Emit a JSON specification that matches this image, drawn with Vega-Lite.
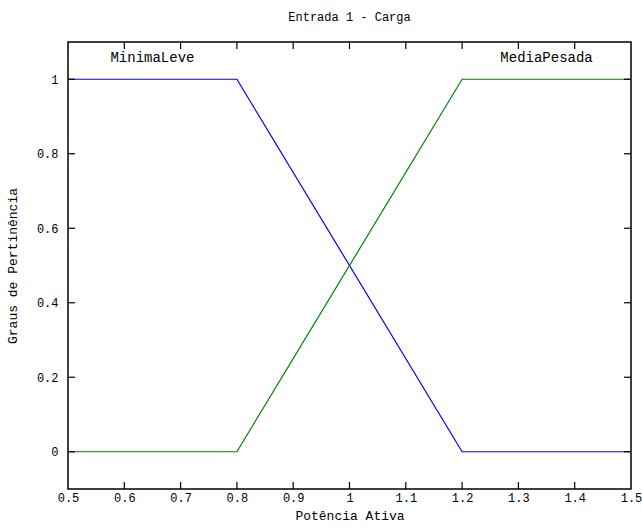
{
  "$schema": "https://vega.github.io/schema/vega-lite/v6.json",
  "autosize": {"type": "none"},
  "padding": {"left": 68, "top": 42, "right": 11, "bottom": 40},
  "width": 563,
  "height": 447,
  "background": "white",
  "title": {"text": "Entrada 1 - Carga", "font": "Liberation Mono, DejaVu Sans Mono, monospace", "fontSize": 12, "fontWeight": "normal", "color": "black", "offset": 18},
  "config": {
    "view": {"stroke": "black", "strokeWidth": 1.5},
    "axis": {"labelFont": "Liberation Mono, DejaVu Sans Mono, monospace", "titleFont": "Liberation Mono, DejaVu Sans Mono, monospace", "labelFontSize": 12, "titleFontSize": 13, "titleFontWeight": "normal", "labelColor": "black", "titleColor": "black", "grid": false, "domain": false, "ticks": false, "tickSize": 0}
  },
  "datasets": {
    "lines": [
      {"x": 0.5, "y": 1, "mf": "MinimaLeve"},
      {"x": 0.8, "y": 1, "mf": "MinimaLeve"},
      {"x": 1.2, "y": 0, "mf": "MinimaLeve"},
      {"x": 1.5, "y": 0, "mf": "MinimaLeve"},
      {"x": 0.5, "y": 0, "mf": "MediaPesada"},
      {"x": 0.8, "y": 0, "mf": "MediaPesada"},
      {"x": 1.2, "y": 1, "mf": "MediaPesada"},
      {"x": 1.5, "y": 1, "mf": "MediaPesada"}
    ],
    "labels": [
      {"x": 0.65, "y": 1.057, "label": "MinimaLeve"},
      {"x": 1.35, "y": 1.057, "label": "MediaPesada"}
    ],
    "ticksX": [{"v": 0.6}, {"v": 0.7}, {"v": 0.8}, {"v": 0.9}, {"v": 1.0}, {"v": 1.1}, {"v": 1.2}, {"v": 1.3}, {"v": 1.4}],
    "ticksY": [{"v": 0}, {"v": 0.2}, {"v": 0.4}, {"v": 0.6}, {"v": 0.8}, {"v": 1.0}]
  },
  "layer": [
    {
      "data": {"name": "lines"},
      "mark": {"type": "line", "strokeWidth": 1.2, "clip": true},
      "encoding": {
        "x": {"field": "x", "type": "quantitative", "title": "Potência Ativa", "scale": {"domain": [0.5, 1.5], "nice": false, "zero": false},
              "axis": {"title": "Potência Ativa", "format": "~g", "values": [0.5, 0.6, 0.7, 0.8, 0.9, 1, 1.1, 1.2, 1.3, 1.4, 1.5], "labelPadding": 3, "titlePadding": 6, "labelFlush": false, "labelOverlap": false}},
        "y": {"field": "y", "type": "quantitative", "title": "Graus de Pertinência", "scale": {"domain": [-0.1, 1.1], "nice": false, "zero": false},
              "axis": {"title": "Graus de Pertinência", "format": "~g", "values": [0, 0.2, 0.4, 0.6, 0.8, 1], "labelPadding": 10, "titlePadding": 17, "labelFlush": false}},
        "color": {"field": "mf", "type": "nominal", "scale": {"domain": ["MinimaLeve", "MediaPesada"], "range": ["#0000ff", "#008000"]}, "legend": null}
      }
    },
    {
      "data": {"name": "labels"},
      "mark": {"type": "text", "font": "Liberation Mono, DejaVu Sans Mono, monospace", "fontSize": 14, "color": "black"},
      "encoding": {
        "x": {"field": "x", "type": "quantitative", "title": "Potência Ativa"},
        "y": {"field": "y", "type": "quantitative", "title": "Graus de Pertinência"},
        "text": {"field": "label"}
      }
    },
    {
      "data": {"name": "ticksX"},
      "mark": {"type": "tick", "orient": "vertical", "size": 14, "thickness": 1.2, "color": "black", "opacity": 1, "clip": true},
      "encoding": {
        "x": {"field": "v", "type": "quantitative", "title": "Potência Ativa"},
        "y": {"datum": -0.1, "type": "quantitative", "title": "Graus de Pertinência"}
      }
    },
    {
      "data": {"name": "ticksX"},
      "mark": {"type": "tick", "orient": "vertical", "size": 14, "thickness": 1.2, "color": "black", "opacity": 1, "clip": true},
      "encoding": {
        "x": {"field": "v", "type": "quantitative", "title": "Potência Ativa"},
        "y": {"datum": 1.1, "type": "quantitative", "title": "Graus de Pertinência"}
      }
    },
    {
      "data": {"name": "ticksY"},
      "mark": {"type": "tick", "orient": "horizontal", "size": 14, "thickness": 1.2, "color": "black", "opacity": 1, "clip": true},
      "encoding": {
        "y": {"field": "v", "type": "quantitative", "title": "Graus de Pertinência"},
        "x": {"datum": 0.5, "type": "quantitative", "title": "Potência Ativa"}
      }
    },
    {
      "data": {"name": "ticksY"},
      "mark": {"type": "tick", "orient": "horizontal", "size": 14, "thickness": 1.2, "color": "black", "opacity": 1, "clip": true},
      "encoding": {
        "y": {"field": "v", "type": "quantitative", "title": "Graus de Pertinência"},
        "x": {"datum": 1.5, "type": "quantitative", "title": "Potência Ativa"}
      }
    }
  ]
}
